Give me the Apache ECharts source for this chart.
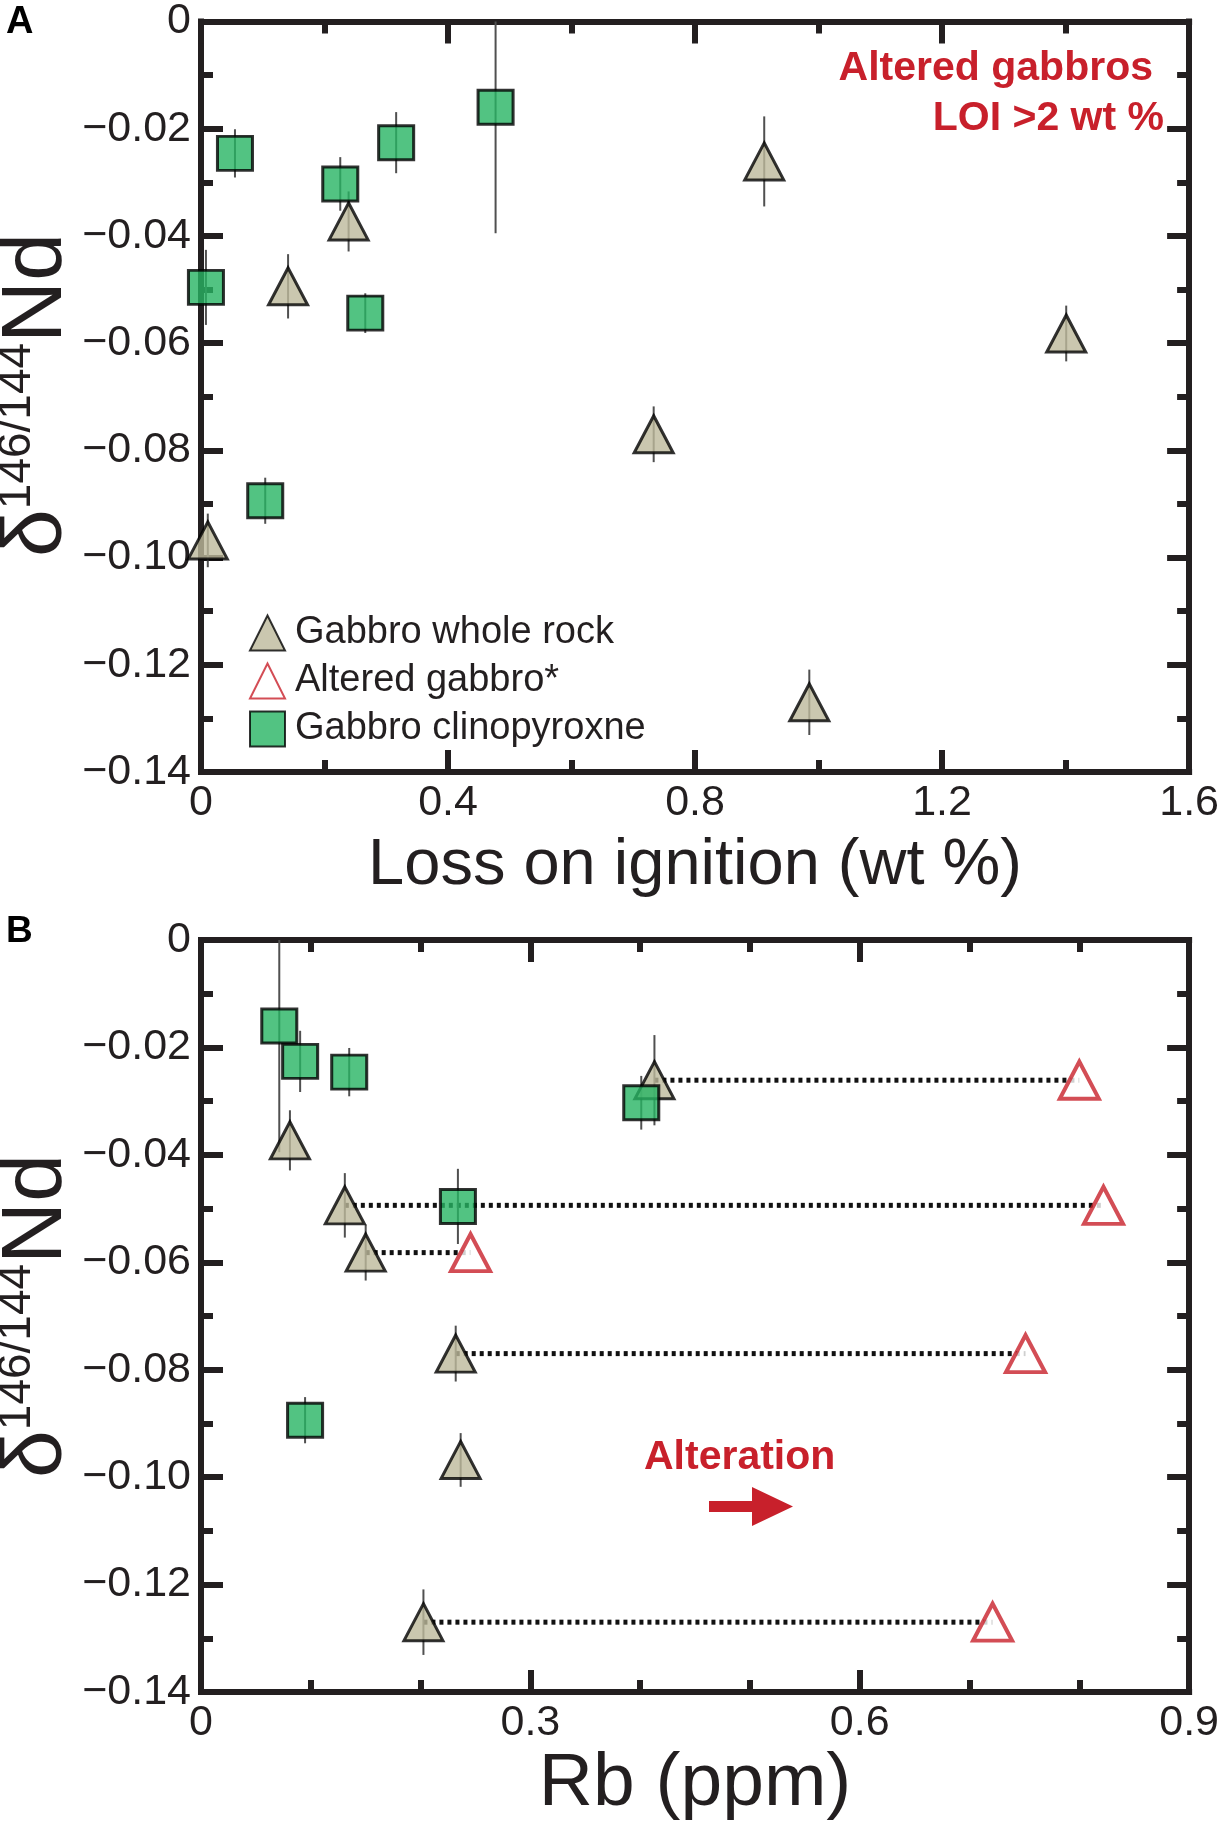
<!DOCTYPE html>
<html>
<head>
<meta charset="utf-8">
<title>Nd isotopes of gabbros vs LOI and Rb</title>
<script src="https://cdn.jsdelivr.net/npm/echarts@6/dist/echarts.min.js"></script>
<style>
  html, body { margin: 0; padding: 0; background: #fff; }
  #main { width: 1222px; height: 1831px; }
</style>
</head>
<body>
<div id="main"></div>
<script>
// gabbro whole rock, same samples in both panels
var wrLoi = [0.239, 0.141, 0.912, 1.401, 0.733, 0.011, 0.985];
var wrRb  = [0.081, 0.131, 0.413, 0.150, 0.232, 0.2365, 0.2026];
var wrNd  = [-0.0373, -0.0494, -0.0261, -0.0582, -0.0770, -0.0968, -0.1270];
var wrErr = [0.0056, 0.0060, 0.0084, 0.0052, 0.0052, 0.0050, 0.0061];

// altered gabbros (LOI >2 wt %), altFrom = row of the fresh sample it is tied to
var altRb   = [0.800, 0.822, 0.2455, 0.751, 0.721];
var altNd   = [-0.0261, -0.0494, -0.0582, -0.0770, -0.1270];
var altFrom = [2, 1, 3, 4, 6];

// gabbro clinopyroxene (one sample has no Rb value)
var cpxLoi = [0.055, 0.2255, 0.316, 0.477, 0.008, 0.266, 0.104];
var cpxRb  = [0.135, 0.401, 0.0903, 0.0713, 0.234, null, 0.0948];
var cpxNd  = [-0.0246, -0.0303, -0.0226, -0.0160, -0.0496, -0.0544, -0.0894];
var cpxErr = [0.0045, 0.0050, 0.0057, 0.0235, 0.0070, 0.0037, 0.0043];

// axis ranges
var loiAxis = { min: 0, max: 1.6, interval: 0.4, minor: 2 };
var rbAxis  = { min: 0, max: 0.9, interval: 0.3, minor: 3 };
var ndAxis  = { min: -0.14, max: 0, interval: 0.02, minor: 2 };

var ink = '#231f20';
var red = '#c8202b';
var tan = '#bdb99b';
var green = '#27b463';
var font = '"Liberation Sans", Arial, Helvetica, sans-serif';

var chart = echarts.init(document.getElementById('main'), null, { renderer: 'canvas' });

function pts(xs, ys) {
    var out = [];
    for (var i = 0; i < xs.length; i++) {
        if (xs[i] != null) out.push([xs[i], ys[i]]);
    }
    return out;
}
function errPts(xs, ys, es) {
    var out = [];
    for (var i = 0; i < xs.length; i++) {
        if (xs[i] != null) out.push([xs[i], ys[i], es[i]]);
    }
    return out;
}

function fmtX(v) { return String(Math.round(v * 10) / 10); }
function fmtY(v) {
    if (Math.abs(v) < 1e-9) return '0';
    return '\u2212' + Math.abs(v).toFixed(2);
}

function makeAxis(range, grid, pos, showLabel, formatter) {
    return {
        type: 'value',
        gridIndex: grid,
        position: pos,
        min: range.min,
        max: range.max,
        interval: range.interval,
        axisLine: { show: true, onZero: false, lineStyle: { color: ink, width: 6, cap: 'square' } },
        axisTick: { show: true, inside: true, length: 22, lineStyle: { color: ink, width: 6 } },
        minorTick: { show: true, splitNumber: range.minor, length: 12, lineStyle: { color: ink, width: 6 } },
        splitLine: { show: false },
        minorSplitLine: { show: false },
        axisLabel: {
            show: showLabel,
            margin: 10,
            fontSize: 43,
            color: ink,
            fontFamily: font,
            formatter: formatter,
            showMinLabel: true,
            showMaxLabel: true
        }
    };
}

// thin vertical error bar, clipped at the top of the plot (0)
function errorBar(params, api) {
    var x = api.value(0), y = api.value(1), e = api.value(2);
    var top = api.coord([x, Math.min(y + e, 0)]);
    var bot = api.coord([x, y - e]);
    return {
        type: 'line',
        shape: { x1: top[0], y1: top[1], x2: bot[0], y2: bot[1] },
        style: { stroke: '#505050', lineWidth: 2 }
    };
}

// dotted tie line from a fresh gabbro to its altered equivalent
var linkData = altFrom.map(function (k, i) { return [wrRb[k], altRb[i], altNd[i]]; });
function tieLine(params, api) {
    var a = api.coord([api.value(0), api.value(2)]);
    var b = api.coord([api.value(1), api.value(2)]);
    return {
        type: 'line',
        shape: { x1: a[0], y1: a[1], x2: b[0], y2: b[1] },
        style: { stroke: '#111', lineWidth: 5, lineDash: [4, 4] }
    };
}

var wrStyle  = { color: tan, borderColor: '#000', borderWidth: 3 };
var cpxStyle = { color: green, borderColor: '#000', borderWidth: 3 };
var altStyle = { color: '#fff', borderColor: red, borderWidth: 4 };

var yTitle = {
    text: '{d|\u03b4}{s|146/144}{n|Nd}',
    rich: {
        d: { fontSize: 86, fontFamily: font, fill: ink, lineHeight: 86 },
        s: { fontSize: 46, fontFamily: font, fill: ink, verticalAlign: 'top', lineHeight: 60 },
        n: { fontSize: 86, fontFamily: font, fill: ink, lineHeight: 86 }
    },
    align: 'center',
    verticalAlign: 'middle'
};

var option = {
    animation: false,
    backgroundColor: '#fff',
    grid: [
        { left: 201, top: 20, width: 997, height: 752 },
        { left: 201, top: 940, width: 997, height: 752 }
    ],
    xAxis: [
        Object.assign(makeAxis(loiAxis, 0, 'bottom', true, fmtX), {
            name: 'Loss on ignition (wt %)',
            nameLocation: 'middle',
            nameGap: 62,
            nameTextStyle: { fontSize: 65, color: ink, fontFamily: font }
        }),
        makeAxis(loiAxis, 0, 'top', false),
        Object.assign(makeAxis(rbAxis, 1, 'bottom', true, fmtX), {
            name: 'Rb (ppm)',
            nameLocation: 'middle',
            nameGap: 55,
            nameTextStyle: { fontSize: 75, color: ink, fontFamily: font }
        }),
        makeAxis(rbAxis, 1, 'top', false)
    ],
    yAxis: [
        makeAxis(ndAxis, 0, 'left', true, fmtY),
        makeAxis(ndAxis, 0, 'right', false),
        makeAxis(ndAxis, 1, 'left', true, fmtY),
        makeAxis(ndAxis, 1, 'right', false)
    ],
    legend: {
        orient: 'vertical',
        left: 244,
        top: 609,
        itemWidth: 35,
        itemHeight: 35,
        itemGap: 10,
        selectedMode: false,
        data: ['Gabbro whole rock', 'Altered gabbro*', 'Gabbro clinopyroxne'],
        textStyle: { fontSize: 38, color: ink, fontFamily: font, padding: [0, 0, 0, 5] }
    },
    series: [
        // panel A
        { type: 'custom', xAxisIndex: 0, yAxisIndex: 0, z: 2, silent: true,
          renderItem: errorBar, data: errPts(wrLoi, wrNd, wrErr) },
        { type: 'custom', xAxisIndex: 0, yAxisIndex: 0, z: 2, silent: true,
          renderItem: errorBar, data: errPts(cpxLoi, cpxNd, cpxErr) },
        { name: 'Gabbro whole rock', type: 'scatter', xAxisIndex: 0, yAxisIndex: 0, z: 3,
          symbol: 'triangle', symbolSize: [39, 37], itemStyle: wrStyle,
          data: pts(wrLoi, wrNd) },
        { name: 'Gabbro clinopyroxne', type: 'scatter', xAxisIndex: 0, yAxisIndex: 0, z: 4,
          symbol: 'rect', symbolSize: [35, 34], itemStyle: cpxStyle,
          data: pts(cpxLoi, cpxNd) },

        // panel B
        { type: 'custom', xAxisIndex: 2, yAxisIndex: 2, z: 2, silent: true,
          renderItem: tieLine, data: linkData },
        { type: 'custom', xAxisIndex: 2, yAxisIndex: 2, z: 2, silent: true,
          renderItem: errorBar, data: errPts(wrRb, wrNd, wrErr) },
        { type: 'custom', xAxisIndex: 2, yAxisIndex: 2, z: 2, silent: true,
          renderItem: errorBar, data: errPts(cpxRb, cpxNd, cpxErr) },
        { name: 'Altered gabbro*', type: 'scatter', xAxisIndex: 2, yAxisIndex: 2, z: 3,
          symbol: 'triangle', symbolSize: [39, 37], itemStyle: altStyle,
          data: pts(altRb, altNd) },
        { name: 'Gabbro whole rock', type: 'scatter', xAxisIndex: 2, yAxisIndex: 2, z: 3,
          symbol: 'triangle', symbolSize: [39, 37], itemStyle: wrStyle,
          data: pts(wrRb, wrNd) },
        { name: 'Gabbro clinopyroxne', type: 'scatter', xAxisIndex: 2, yAxisIndex: 2, z: 4,
          symbol: 'rect', symbolSize: [35, 34], itemStyle: cpxStyle,
          data: pts(cpxRb, cpxNd) }
    ],
    graphic: [
        { type: 'text', x: 6, y: 4, style: { text: 'A', fontSize: 38, fontWeight: 'bold', fontFamily: font, fill: '#000' } },
        { type: 'text', x: 6, y: 913, style: { text: 'B', fontSize: 37, fontWeight: 'bold', fontFamily: font, fill: '#000' } },
        { type: 'text', x: 37, y: 395, rotation: Math.PI / 2, style: yTitle },
        { type: 'text', x: 37, y: 1316, rotation: Math.PI / 2, style: yTitle },
        { type: 'text', x: 1153, y: 48,
          style: { text: 'Altered gabbros', align: 'right', fontSize: 41, fontWeight: 'bold', fontFamily: font, fill: red } },
        { type: 'text', x: 1164, y: 98,
          style: { text: 'LOI >2 wt %', align: 'right', fontSize: 41, fontWeight: 'bold', fontFamily: font, fill: red } },
        { type: 'text', x: 644, y: 1437,
          style: { text: 'Alteration', align: 'left', fontSize: 41, fontWeight: 'bold', fontFamily: font, fill: red } },
        { type: 'polygon',
          shape: { points: [[709, 1501], [752, 1501], [752, 1487], [793, 1506.5], [752, 1526], [752, 1512], [709, 1512]] },
          style: { fill: red } }
    ]
};

chart.setOption(option);
</script>
</body>
</html>
